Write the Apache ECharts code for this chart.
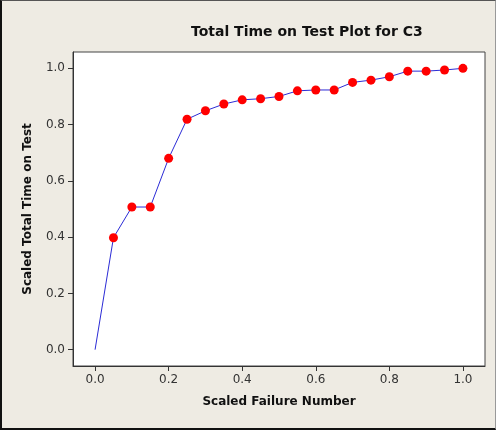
<!DOCTYPE html>
<html>
<head>
<meta charset="utf-8">
<script src="https://cdn.jsdelivr.net/npm/echarts@6/dist/echarts.min.js"></script>
<style>
  html, body { margin: 0; padding: 0; background: #eeebe3; }
  #chart {
    width: 496px;
    height: 430px;
    box-sizing: border-box;
    border-top: 1px solid #555;
    border-left: 2px solid #111;
    border-bottom: 2px solid #111;
    border-right: 1px solid #999;
  }
</style>
</head>
<body>
<div id="chart"></div>
<script>
// scaled failure number (x) and scaled total time on test (y)
var failureNum = [0, 0.05, 0.1, 0.15, 0.2, 0.25, 0.3, 0.35, 0.4, 0.45, 0.5,
  0.55, 0.6, 0.65, 0.7, 0.75, 0.8, 0.85, 0.9, 0.95, 1.0]
var totalTime = [0, 0.398, 0.507, 0.507, 0.68, 0.819, 0.849, 0.873, 0.888, 0.892, 0.9,
  0.92, 0.923, 0.923, 0.95, 0.958, 0.97, 0.99, 0.99, 0.994, 1.0]
var tickVals = [0, 0.2, 0.4, 0.6, 0.8, 1.0]

var myChart = echarts.init(document.getElementById('chart'))

var pts = failureNum.map(function (x, i) {
  var p = { value: [x, totalTime[i]] }
  // origin has no marker
  if (i === 0) p.symbol = 'none'
  return p
})

var axisText = {
  color: '#333',
  fontSize: 12,
  fontFamily: 'DejaVu Sans'
}

var option = {
  backgroundColor: '#eeebe3',
  animation: false,
  title: {
    text: 'Total Time on Test Plot for C3',
    left: 184,
    top: 19,
    textStyle: {
      fontFamily: 'DejaVu Sans',
      fontWeight: 'bold',
      fontSize: 14,
      color: '#111'
    }
  },
  grid: {
    left: 71,
    right: 10,
    top: 51,
    bottom: 62,
    show: true,
    backgroundColor: '#fff',
    borderColor: '#444',
    borderWidth: 1
  },
  xAxis: {
    type: 'value',
    min: -0.06,
    max: 1.06,
    name: 'Scaled Failure Number',
    nameLocation: 'middle',
    nameGap: 30,
    nameTextStyle: {
      fontFamily: 'DejaVu Sans',
      fontWeight: 'bold',
      fontSize: 12,
      color: '#111'
    },
    axisLine: { show: true, onZero: false, lineStyle: { color: '#333' } },
    axisTick: { show: true, length: 5, customValues: tickVals, lineStyle: { color: '#333' } },
    axisLabel: Object.assign({
      customValues: tickVals,
      margin: 8,
      formatter: function (v) { return v.toFixed(1) }
    }, axisText),
    splitLine: { show: false }
  },
  yAxis: {
    type: 'value',
    min: -0.058,
    max: 1.058,
    name: 'Scaled Total Time on Test',
    nameLocation: 'middle',
    nameGap: 39,
    nameTextStyle: {
      fontFamily: 'DejaVu Sans',
      fontWeight: 'bold',
      fontSize: 12,
      color: '#111'
    },
    axisLine: { show: true, onZero: false, lineStyle: { color: '#333' } },
    axisTick: { show: true, length: 5, customValues: tickVals, lineStyle: { color: '#333' } },
    axisLabel: Object.assign({
      customValues: tickVals,
      margin: 8,
      formatter: function (v) { return v.toFixed(1) }
    }, axisText),
    splitLine: { show: false }
  },
  series: [
    {
      type: 'line',
      data: pts,
      symbol: 'circle',
      symbolSize: 9,
      showAllSymbol: true,
      lineStyle: { color: '#2b2bd6', width: 1 },
      itemStyle: { color: '#ff0000' },
      z: 3
    }
  ]
}
myChart.setOption(option, true)
</script>
</body>
</html>
